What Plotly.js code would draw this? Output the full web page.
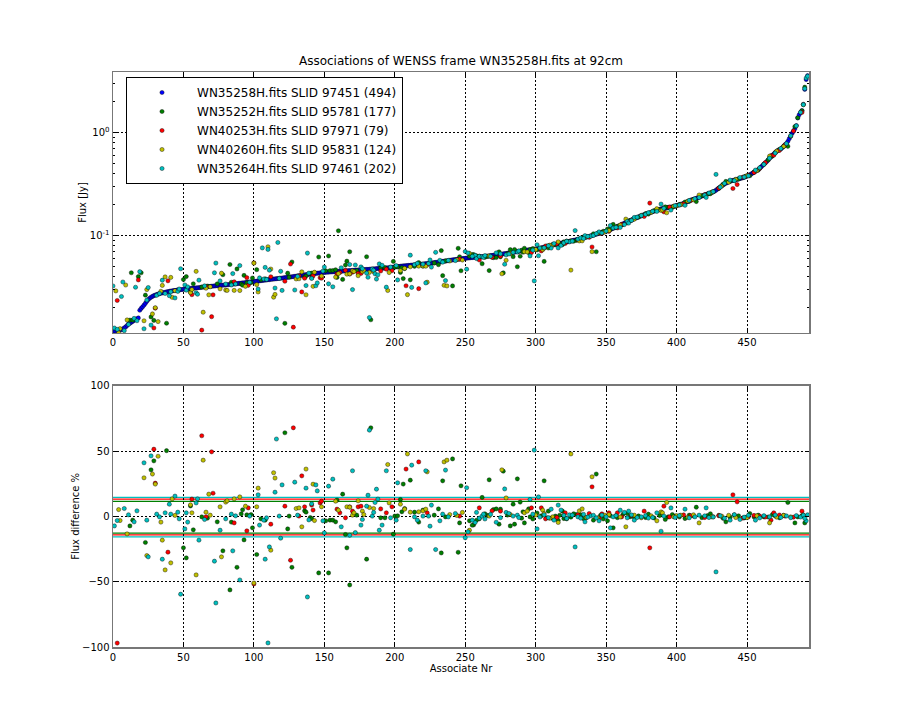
<!DOCTYPE html>
<html>
<head>
<meta charset="utf-8">
<script src="https://cdn.plot.ly/plotly-3.0.1.min.js"></script>
<style>html,body{margin:0;padding:0;background:#fff}</style>
</head>
<body>
<div id="chart" style="width:900px;height:720px"></div>
<script>
// ---------- DATA ----------
const seriesNames = [
  'WN35258H.fits SLID 97451 (494)',
  'WN35252H.fits SLID 95781 (177)',
  'WN40253H.fits SLID 97971 (79)',
  'WN40260H.fits SLID 95831 (124)',
  'WN35264H.fits SLID 97461 (202)'
];

// Reference source fluxes (Jy), sorted, associate nr 0..493
const blueFlux = [
0.0118,0.0119,0.0119,0.0120,0.0121,0.0122,0.0123,0.0125,0.0128,0.0131,
0.0135,0.0140,0.0142,0.0145,0.0148,0.0152,0.0155,0.0157,0.0160,0.0190,
0.0198,0.0205,0.0213,0.0222,0.0232,0.0241,0.0248,0.0254,0.0259,0.0263,
0.0267,0.0270,0.0273,0.0275,0.0278,0.0280,0.0282,0.0284,0.0286,0.0288,
0.0290,0.0292,0.0293,0.0295,0.0296,0.0297,0.0299,0.0300,0.0301,0.0302,
0.0304,0.0305,0.0306,0.0307,0.0308,0.0309,0.0310,0.0311,0.0312,0.0313,
0.0314,0.0315,0.0316,0.0318,0.0319,0.0320,0.0321,0.0322,0.0323,0.0324,
0.0325,0.0326,0.0327,0.0328,0.0329,0.0330,0.0331,0.0332,0.0333,0.0334,
0.0335,0.0336,0.0337,0.0338,0.0340,0.0341,0.0342,0.0343,0.0344,0.0346,
0.0347,0.0348,0.0350,0.0351,0.0352,0.0354,0.0355,0.0356,0.0358,0.0359,
0.0361,0.0362,0.0364,0.0365,0.0367,0.0368,0.0370,0.0371,0.0373,0.0374,
0.0376,0.0377,0.0379,0.0380,0.0382,0.0383,0.0385,0.0386,0.0388,0.0389,
0.0390,0.0392,0.0394,0.0395,0.0397,0.0399,0.0400,0.0402,0.0404,0.0405,
0.0407,0.0409,0.0411,0.0413,0.0415,0.0417,0.0419,0.0421,0.0422,0.0424,
0.0426,0.0428,0.0430,0.0431,0.0433,0.0435,0.0436,0.0438,0.0440,0.0441,
0.0443,0.0444,0.0445,0.0446,0.0447,0.0448,0.0449,0.0450,0.0451,0.0452,
0.0453,0.0454,0.0455,0.0456,0.0457,0.0458,0.0459,0.0460,0.0461,0.0462,
0.0463,0.0464,0.0465,0.0466,0.0467,0.0468,0.0469,0.0470,0.0471,0.0472,
0.0473,0.0474,0.0475,0.0477,0.0478,0.0479,0.0480,0.0482,0.0483,0.0484,
0.0485,0.0486,0.0487,0.0488,0.0489,0.0490,0.0492,0.0494,0.0496,0.0498,
0.0500,0.0502,0.0504,0.0506,0.0508,0.0510,0.0512,0.0513,0.0515,0.0516,
0.0518,0.0519,0.0521,0.0522,0.0524,0.0525,0.0527,0.0528,0.0530,0.0532,
0.0534,0.0536,0.0538,0.0540,0.0542,0.0544,0.0546,0.0548,0.0551,0.0553,
0.0556,0.0558,0.0561,0.0563,0.0566,0.0569,0.0571,0.0574,0.0577,0.0580,
0.0583,0.0585,0.0588,0.0590,0.0592,0.0595,0.0597,0.0600,0.0602,0.0605,
0.0607,0.0609,0.0611,0.0613,0.0615,0.0617,0.0619,0.0620,0.0622,0.0623,
0.0625,0.0627,0.0629,0.0631,0.0633,0.0636,0.0638,0.0641,0.0644,0.0647,
0.0650,0.0652,0.0655,0.0658,0.0661,0.0664,0.0667,0.0670,0.0673,0.0676,
0.0680,0.0683,0.0686,0.0690,0.0694,0.0697,0.0701,0.0705,0.0709,0.0713,
0.0717,0.0720,0.0723,0.0726,0.0729,0.0732,0.0735,0.0738,0.0741,0.0743,
0.0746,0.0750,0.0755,0.0760,0.0766,0.0772,0.0778,0.0784,0.0790,0.0796,
0.0802,0.0808,0.0814,0.0820,0.0826,0.0832,0.0838,0.0845,0.0851,0.0857,
0.0863,0.0869,0.0875,0.0881,0.0887,0.0893,0.0900,0.0907,0.0914,0.0921,
0.0928,0.0935,0.0943,0.0951,0.0959,0.0967,0.0975,0.0983,0.0992,0.1000,
0.101,0.102,0.103,0.104,0.105,0.106,0.107,0.108,0.109,0.110,
0.111,0.113,0.114,0.116,0.117,0.119,0.120,0.122,0.123,0.125,
0.127,0.129,0.131,0.133,0.135,0.137,0.139,0.141,0.143,0.145,
0.147,0.149,0.151,0.153,0.155,0.157,0.159,0.161,0.163,0.165,
0.166,0.168,0.170,0.172,0.174,0.176,0.178,0.180,0.181,0.183,
0.184,0.186,0.187,0.188,0.189,0.190,0.191,0.192,0.194,0.195,
0.197,0.199,0.201,0.203,0.205,0.207,0.210,0.213,0.216,0.219,
0.222,0.225,0.227,0.229,0.232,0.235,0.238,0.241,0.244,0.247,
0.250,0.253,0.256,0.259,0.262,0.265,0.268,0.272,0.278,0.285,
0.292,0.299,0.306,0.313,0.319,0.325,0.330,0.335,0.339,0.343,
0.346,0.349,0.352,0.355,0.358,0.361,0.364,0.367,0.371,0.376,
0.381,0.387,0.393,0.400,0.408,0.416,0.424,0.432,0.441,0.454,
0.468,0.482,0.497,0.512,0.528,0.545,0.567,0.585,0.605,0.625,
0.645,0.662,0.678,0.684,0.700,0.720,0.745,0.768,0.790,0.830,
0.880,0.930,0.990,1.04,1.10,1.18,1.40,1.50,1.58,1.65,
1.90,2.65,3.30,3.60
];

// Other sources: [associate nr, flux difference %] ; difference = (ref - src)/ref * 100
const greenPoints = [
[12,-7.3],[14,-2.9],[23,-20],[27,35.6],[29,42.5],[38,50.3],[50,-24.1],[52,-31.8],[55,8],[57,-10.3],[63,-0.4],[67,-1.4],[74,-4.2],[78,-26.4],[83,-56.3],[84,-4.4],[88,-39],[91,1.9],[92,5],[93,-18],[95,1.2],[98,1.4],[99,-8.8],[102,-29.2],[105,-1.9],[108,-2.9],[122,64],[124,-9.6],[125,0.2],[127,-39],
[136,4.2],[137,3.2],[140,-0.9],[141,-1.7],[146,-43.3],[151,-3.4],[153,-43.3],[154,-2.9],[156,-2.9],[158,-4.2],[159,12.4],[163,17],[165,-13.9],[166,-24.1],[168,-52.5],[173,0.9],[180,-32.8],[183,67.8],[190,-1.1],[193,-1.1],[199,-13.6],[200,0.2],[202,0.4],[204,12.9],[205,3.5],[206,24.7],[207,6],[211,27.7],[214,3.2],[217,-4.4],[220,4.8],[228,0.9],[231,5.7],[233,-28],[234,27.2],[236,-0.4],[241,44],[245,-27.5],[246,-5],[247,23.4],[253,-3.4],[256,-6.5],[260,-1.9],
[255,-6.8],[262,14.5],[266,0.7],[267,28],[270,5.2],[272,5.7],[274,-6],[275,5.5],[277,34.6],[282,-7.3],[284,9.3],[285,-6],[287,28.7],[289,10.9],[290,-1.4],[291,3.5],[292,-5],[295,5.7],[296,-0.4],[304,0.4],[306,27.2],[308,-1.1],[309,4],[314,0.2],[319,4],[320,-1.7],[322,-1.9],[329,1.4],[336,-0.9],[341,-2.9],[343,32.4],[346,0.7],[351,-3.4],[355,-8.8],[367,-0.4],[378,-0.9],[380,1.7],
[394,-0.4],[399,0.2],[406,-1.7],[409,0.9],[414,7],[435,-4.2],[452,2.2],[455,-0.4],[462,-0.4],[479,10.6],[484,-5],
[13,-203],[18,-152],[20,-122],[160,-148],
[312,-1.5],[317,0.8],[325,-0.6],[332,1.2],[348,-2],[353,0.5],[358,-1],[362,1.5],[370,-0.8],[373,0.3],[384,-1.2],[388,0.6],[402,-0.5],[412,0.3],[418,-1],[422,0.6],[426,-0.3],[430,0.8],[438,-0.6],[444,0.4],[448,-1.2],[458,0.9],[465,-0.5],[470,0.3],[473,-1.1],[476,0.7],[486,-0.4],[489,0.5],[491,-5],[264,2],[258,-3],[280,1],[298,-2],[301,2.5],[316,-3],[327,2],[334,-1.8],[365,2.2],[392,-2.4],[397,1.4],[424,2],[433,-1.5],[441,1.1],[449,-0.8],[468,1.3]
];

const redPoints = [
[3,-97],[29,51.4],[30,25.4],[39,-27.4],[56,13.2],[63,61.7],[66,-0.4],[70,49.4],[71,17.7],[86,-5],[95,-11.1],[96,6.5],[100,-51.7],[112,-6],[122,7.8],[126,-33.6],[128,67.8],
[132,0.2],[134,31],[136,7.3],[141,8.6],[142,4.8],[147,10.3],[148,11.6],[159,5.5],[161,2.7],[165,-1.1],[168,7.3],[170,4],[174,7.3],[176,7.8],[190,5.7],[194,2.7],[198,7.3],[208,36.2],[217,41.7],[223,2.7],[246,0.2],[260,6.5],
[269,4.2],[275,4],[297,6.5],[304,6.5],[307,-1.9],[321,2.7],[338,2.2],[340,22.6],[347,1.9],[352,2.7],[358,2.7],[361,-0.4],[377,4],[381,-24.1],
[391,7.8],[410,0.4],[440,16.5],[443,11.1],[451,-0.4],[459,0.2],[467,-2.9],[469,2.7],[477,0.2],[489,4],
[18,-134],
[315,-0.8],[330,1.2],[345,-1.5],[368,0.6],[395,-0.4],[405,1.1],[420,-0.9],[430,0.5],[447,-1.3],[455,0.7],[463,-0.5],[473,1],[483,-0.6]
];

const yellowPoints = [
[4,5.2],[5,-3.2],[10,-13.4],[22,29.5],[24,-30],[28,32.4],[30,24.7],[32,46],[34,-4.4],[35,-18.2],[37,-41],[41,-35.6],[42,13.4],[44,0.7],[55,8.8],[56,2.7],[59,-44.8],[64,43],[66,3.2],[68,17],[69,0.9],[76,7.3],[77,-31],[80,10.9],[81,11.9],[86,13.4],[90,14.9],[94,7.8],[100,-51],[102,7.3],[103,21.6],[112,-25.9],[114,33.4],[115,29.3],
[130,6],[132,6.5],[134,-8],[137,36.2],[142,24.6],[143,-3.2],[148,7.3],[158,11.6],[160,4.7],[166,7.3],[168,7],[170,0.9],[171,2.7],[174,11.9],[177,4],[178,1.4],[182,6.8],[185,6],[195,39.7],[196,10.3],[204,9.3],[207,5.5],[209,47.8],[211,3.2],[217,3.5],[220,4.2],[222,5.5],[223,34.1],[235,41.7],[237,43],[239,1.4],[244,0.7],[248,3],[253,-10.6],
[267,0.2],[276,35.6],[279,14.1],[282,1.4],[292,2.7],[294,4],[305,4.7],[306,2.2],[312,-0.4],[316,-4.7],[325,47.8],[331,4.2],[333,5.7],[340,30.3],[344,-1.1],[349,0.9],[357,0.4],[364,-8],[382,0.4],[386,-3.4],
[389,3.4],[390,2.7],[393,10.6],[398,-0.4],[403,0.9],[416,-5],[432,0.2],[442,-0.9],[466,-5],[481,-0.4],
[2,-146],[9,-155],[110,-109],
[300,1],[310,-1.5],[320,0.6],[336,-0.8],[352,1.3],[360,-0.5],[370,0.9],[375,-1.1],[400,0.5],[408,-0.7],[412,1.2],[425,-0.4],[437,0.8],[450,-1],[457,0.4],[471,-0.6],[476,0.8],[490,1]
];

const cyanPoints = [
[1,-7.3],[3,-3.2],[8,6],[11,1.2],[15,-4.2],[17,4.2],[22,41],[24,-2.9],[25,-31],[27,46.3],[31,1.7],[33,-0.4],[35,-32.8],[37,2.7],[40,9.3],[41,1.7],[44,15.5],[46,3.2],[47,-1.9],[48,-59.6],[51,-9.6],[52,2.7],[53,-4.4],[59,10.3],[60,13.4],[61,-18.2],[65,-2.4],[72,-34.3],[73,-66.3],[76,-10.6],[80,-1.9],[84,1.7],[85,-26.4],[87,0.4],[90,-48.7],[97,0.2],[103,16.5],[104,-6.7],[107,-2.9],[108,-32.8],[109,-1.1],[110,-96.9],[111,-23.4],[115,18.5],[116,59.2],[118,0.2],[119,-16.7],[120,24.1],[129,26.2],
[131,0.9],[137,21.6],[138,-61.7],[139,-2.7],[141,9.6],[144,24.1],[145,19.5],[149,-3.4],[150,-12.6],[153,23.1],[156,28.5],[162,-8],[168,-14.5],[170,34.9],[172,-12.4],[176,-6.7],[177,-2.4],[180,7.8],[181,16.2],[182,66],[184,0.2],[185,3],[186,10.6],[187,20.8],[188,13.2],[189,-10.6],[191,-6.7],[194,34.9],[197,-1.1],[201,-2.9],[202,25.7],[211,-25.4],[212,39.2],[214,-0.4],[216,-2.9],[220,0.2],[222,34.9],[224,0.2],[225,-7.5],[226,8.6],[229,-25.4],[232,-3.4],[234,1.7],[236,35.4],[238,-0.4],[243,2.2],[250,-16.4],[251,21.9],[252,-11.8],[257,-4.7],[258,3],
[255,-2.9],[260,-1.4],[262,0.2],[263,1.7],[272,-4.5],[278,21],[279,3],[281,2.2],[284,0.2],[287,0.9],[288,-0.9],[296,12.9],[298,1.7],[299,50.7],[301,-9.6],[302,14.9],[311,5.5],[313,-2.9],[316,8.6],[318,4.8],[324,1.2],[328,-23.4],[330,-0.4],[332,-1.4],[335,-4.2],[339,0.4],[345,-3.4],[350,-0.4],[353,-8.8],[360,4.7],[363,3],[365,-1.1],[366,4],[370,-2.9],[375,-0.4],[383,-0.9],[386,2.7],
[389,-11.4],[396,6.5],[406,5.5],[413,-0.4],[420,0.4],[421,6.5],[423,-0.9],[428,-42.5],[438,-2.9],[445,-2.4],[456,-2.9],[492,-3.4],[493,1.2],
[0,-177],[6,-110],[7,-186],[16,-105],[19,-137],[106,-107],[117,-124],
[303,-0.5],[306,1.2],[309,-1],[320,0.7],[322,-1.6],[326,0.9],[334,1.5],[337,-0.6],[341,0.8],[343,-1.2],[347,1],[355,-0.4],[357,0.6],[368,1.1],[372,-0.9],[378,0.5],[380,-1.3],[391,0.2],[399,-0.8],[402,0.6],[409,-1.1],[416,0.9],[426,-0.5],[431,0.4],[434,-1.4],[441,1.3],[448,-0.6],[451,0.8],[459,-1.2],[462,0.5],[466,-0.4],[470,1],[474,-0.8],[478,0.3],[481,-1],[485,0.6],[488,-0.5],[490,0.9],[491,-1.5],[264,-2],[268,1.5],[275,-1]
];

// Horizontal limit lines in the difference panel (%)
const greenLimits = [11.4, -12.9];
const redLimits = [13.2, -14.2];
const cyanLimits = [14.5, -15.7];

const xTicks = [0, 50, 100, 150, 200, 250, 300, 350, 400, 450];
const fluxTickVals = [0.1, 1];
const fluxTickText = ['10<sup>-1</sup>', '10<sup>0</sup>'];
const diffTicks = [-100, -50, 0, 50, 100];

// ---------- CHART ----------
const colors = ['#0000ff', '#007f00', '#ff0000', '#bfbf00', '#00bfbf'];
const others = [greenPoints, redPoints, yellowPoints, cyanPoints];
const MS = 4.2;

function mk(color, size) {
  return {color: color, size: size, line: {color: 'black', width: 0.4}};
}

const traces = [];
const blueIdx = blueFlux.map((v, i) => i);
traces.push({
  type: 'scatter', mode: 'markers', name: seriesNames[0],
  x: blueIdx, y: blueFlux, xaxis: 'x', yaxis: 'y',
  marker: mk(colors[0], MS), showlegend: true
});
others.forEach((pts, k) => {
  const idx = pts.map(p => p[0]);
  const flux = pts.map(p => blueFlux[p[0]] * (1 - p[1] / 100));
  traces.push({
    type: 'scatter', mode: 'markers', name: seriesNames[k + 1],
    x: idx, y: flux, xaxis: 'x', yaxis: 'y',
    marker: mk(colors[k + 1], MS), showlegend: true
  });
});
others.forEach((pts, k) => {
  traces.push({
    type: 'scatter', mode: 'markers', name: seriesNames[k + 1],
    x: pts.map(p => p[0]), y: pts.map(p => p[1]), xaxis: 'x2', yaxis: 'y2',
    marker: mk(colors[k + 1], MS), showlegend: false
  });
});

const shapes = [];
[[cyanLimits, colors[4]], [redLimits, colors[2]], [greenLimits, colors[1]]].forEach(([lims, c]) => {
  lims.forEach(v => shapes.push({
    type: 'line', xref: 'x2 domain', yref: 'y2', x0: 0, x1: 1, y0: v, y1: v,
    line: {color: c, width: 1.3}, layer: 'below'
  }));
});

const axisBase = {
  showline: true, linecolor: '#777', linewidth: 1.5, mirror: 'ticks',
  ticks: 'inside', ticklen: 4, tickcolor: 'black', tickwidth: 1,
  showgrid: true, gridcolor: 'black', gridwidth: 1, griddash: '2px,2px',
  zeroline: false, tickfont: {size: 10, color: 'black'}
};

const layout = {
  width: 900, height: 720,
  margin: {l: 113, r: 91, t: 72, b: 73},
  paper_bgcolor: 'white', plot_bgcolor: 'white',
  font: {family: 'DejaVu Sans, sans-serif', size: 10, color: 'black'},
  title: {
    text: 'Associations of WENSS frame WN35258H.fits at 92cm',
    font: {size: 12, color: 'black'},
    x: 0.5, xref: 'paper', xanchor: 'center',
    y: 1 - 61 / 720, yref: 'container', yanchor: 'middle'
  },
  showlegend: true,
  legend: {
    x: 0.0187, y: 0.9913, xanchor: 'left', yanchor: 'top',
    bgcolor: 'white', bordercolor: 'black', borderwidth: 1,
    font: {size: 12, color: 'black'}, tracegroupgap: 0, itemwidth: 60
  },
  xaxis: Object.assign({}, axisBase, {
    domain: [0, 1], anchor: 'y', range: [0, 494],
    tickmode: 'array', tickvals: xTicks
  }),
  yaxis: Object.assign({}, axisBase, {
    domain: [0.5461, 1], anchor: 'x', type: 'log', range: [-1.942, 0.592],
    tickmode: 'array', tickvals: fluxTickVals, ticktext: fluxTickText,
    minor: {ticks: 'inside', ticklen: 2, tickcolor: 'black', showgrid: false, dtick: 'D1'},
    title: {text: 'Flux [Jy]', font: {size: 10}, standoff: 1}
  }),
  xaxis2: Object.assign({}, axisBase, {
    domain: [0, 1], anchor: 'y2', range: [0, 494],
    tickmode: 'array', tickvals: xTicks,
    title: {text: 'Associate Nr', font: {size: 10}, standoff: 2}
  }),
  yaxis2: Object.assign({}, axisBase, {
    domain: [0, 0.4544], anchor: 'x2', range: [-100, 100],
    tickmode: 'array', tickvals: diffTicks,
    title: {text: 'Flux difference %', font: {size: 10}, standoff: 0}
  }),
  shapes: shapes
};

Plotly.newPlot('chart', traces, layout, {displayModeBar: false, staticPlot: true});
</script>
</body>
</html>
